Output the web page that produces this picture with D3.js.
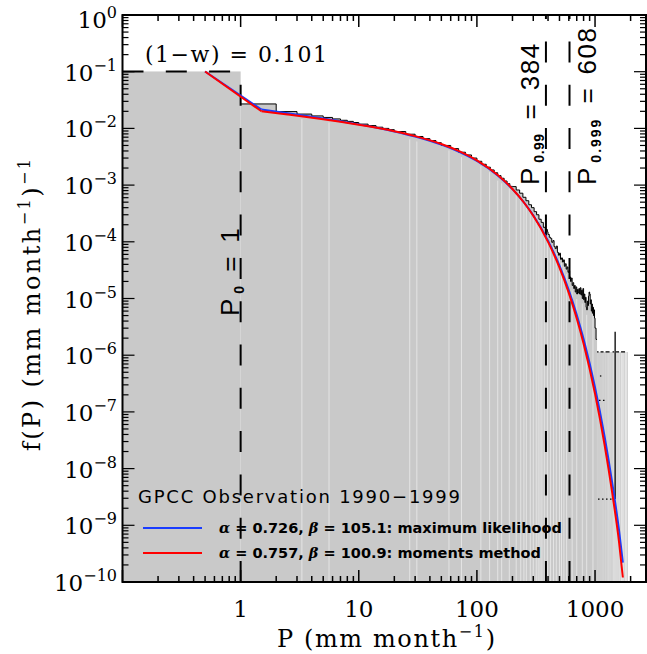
<!DOCTYPE html>
<html><head><meta charset="utf-8">
<script src="https://cdn.jsdelivr.net/npm/d3@7"></script>
<style>body{margin:0;background:#fff}</style>
</head><body>
<svg id="c" width="647" height="654"></svg>
<script>
// ---------------- data ----------------
const dryFraction = 0.101;            // (1-w)
const P0 = 1, P99 = 384, P999 = 608;  // thresholds
// observed histogram (bin edges, densities)
const histEdges  = [1,2,3,4,5,6,7,8,9,10,12,14,16,18,20,25,30,35,40,45,50,60,70,80,90,100,110,120,130,140,150,160,170,180,190,200,
  215,230,245,260,275,290,305,320,335,350,365,380,395,
  400,410,420,430,440,450,460,470,480,490,500,510,520,530,540,550,560,570,580,590,600,610,620,630,640,650,660,670,680,690,
  700,710,720,730,740,750,760,770,780,790,800,810,820,830,840,850,860,870,880,890,900,910,920,930,940,950,960,970,980,990,1000,1020,1040];
const histValues = [0.027,0.0198,0.0179,0.0166,0.0156,0.0147,0.0139,0.0133,0.0127,0.0119,0.0112,0.0105,0.0100,0.0095,0.0088,0.0079,0.0072,0.0066,0.0061,0.0056,0.0050,0.0044,0.0038,0.0034,0.0030,
  0.00263,0.00233,0.00207,0.00185,0.00165,0.00147,0.00132,0.00118,0.00106,0.00095,
  0.00094,0.00082,0.00072,0.00061,0.00053,0.00045,0.00040,0.00034,0.00030,0.00025,0.00022,0.00018,0.000165,
  0.000150,0.000135,0.000120,0.000115,0.000098,0.000105,0.000082,0.000076,0.000084,0.000065,0.000058,0.000063,0.000049,0.000052,0.000044,0.000048,0.000037,0.000041,0.000033,0.000036,0.000029,
  0.000031,0.000024,0.000020,0.000023,0.000017,0.000019,0.000015,0.000017,0.000013,0.000016,
  0.000012,0.0000145,0.0000125,0.000015,0.000012,0.0000155,0.0000115,0.000014,0.000010,0.000015,0.0000095,0.000012,0.0000085,0.0000105,0.000007,0.0000063,0.000009,0.0000075,0.000011,0.000013,
  0.000012,0.000008,0.0000095,0.000006,0.000008,0.0000055,0.000007,0.000005,0.0000063,0.0000045,0.000003,0.0000019];
// sparse tail: single-observation bins
const tailP     = [1045,1055,1062,1071,1080,1090,1098,1107,1115,1125,1135,1148,1160,1175,1190,1203,1215,1232,1250,1270,1290,1310,1330,1355,1380,1400,1420,1450,1480,1510,1540,1570,1600,1640,1690,1730,1780,1830,1880];
const tailValue = 1.14e-6;
const tailDots = [{p1:1100,p2:1130,v:4.3e-7},{p1:1080,p2:1230,v:1.6e-7},{p1:1060,p2:1420,v:2.9e-9}];
const tailSpike = {p:1480, hi:2.6e-6, lo:2.9e-9};
// fitted gamma densities
const curveP = [0.5,1.5,2.5,3.5,5,7,10,15,20,30,50,70,100,150,200,250,300,400,500,600,700,800,1000,1200,1400,1600,1720];
const mlF  = [0.101,0.02146,0.01848,0.01670,0.01493,0.01336,0.01177,0.01004,0.008852,0.007202,0.005177,0.003903,0.002661,0.001480,0.0008496,0.0004967,0.0002936,0.0001048,3.807e-5,1.399e-5,5.177e-6,1.928e-6,2.706e-7,3.836e-8,5.486e-9,7.88e-10,2.2e-10];
const momF = [0.101,0.02007,0.01755,0.01602,0.01447,0.01307,0.01164,0.01003,0.008904,0.007307,0.005294,0.004001,0.002725,0.001505,0.000855,0.0004933,0.0002875,9.955e-5,3.5e-5,1.243e-5,4.44e-6,1.596e-6,2.083e-7,2.746e-8,3.646e-9,4.866e-10,1.2e-10];
// white gaps in the gray fill
const gapP = [3.3,5.6,27,31,58,74,108,128,150,162,188,215,235,250,262,283,300,318,330,342,355,372,395,420,445,470,500,520,545,575,640,700,780,850,960];
// tick labels
const yExponents = [0,-1,-2,-3,-4,-5,-6,-7,-8,-9,-10];
const xTickValues = [1,10,100,1000];
const legendTitle = "GPCC Observation 1990\u22121999";
const legendEntries = [
  {a:"0.726", b:"105.1", label:"maximum likelihood", color:"#1a3cff"},
  {a:"0.757", b:"100.9", label:"moments method", color:"#ff0000"}
];

// ---------------- chart ----------------
const svg = d3.select("#c");
const L=122.5, R=646, T=15, B=582;
const x = d3.scaleLog().domain([0.1, 2700]).range([L, R]);
const y = d3.scaleLog().domain([1e-10, 1]).range([B, T]).clamp(true);
const serif = "'DejaVu Serif', serif";
const sans = "'Liberation Sans', Arial, sans-serif";

svg.append("defs").append("clipPath").attr("id","clip")
  .append("rect").attr("x",L).attr("y",T).attr("width",R-L).attr("height",B-T);
const g = svg.append("g").attr("clip-path","url(#clip)");

const gray = "#c9c9c9";
g.append("rect").attr("x",x(0.1)).attr("y",y(dryFraction))
  .attr("width",x(P0)-x(0.1)).attr("height",B-y(dryFraction)).attr("fill",gray);

const histPts = histEdges.map((e,i)=>[e, i<histValues.length?histValues[i]:histValues[histValues.length-1]]);
g.append("path").datum(histPts)
  .attr("d", d3.area().x(d=>x(d[0])).y0(B).y1(d=>y(d[1])).curve(d3.curveStepAfter))
  .attr("fill",gray);

// sparse tail
g.selectAll(".tail").data(tailP).join("rect")
  .attr("x",d=>x(d)-0.5).attr("width",1).attr("y",y(tailValue)).attr("height",B-y(tailValue))
  .attr("fill","#cfcfcf");
// gaps
g.selectAll(".gap").data(gapP).join("line")
  .attr("x1",d=>x(d)).attr("x2",d=>x(d)).attr("y1",B).attr("y2",d=>{
     let i = d3.bisectRight(histEdges,d)-1; return y(histValues[Math.max(0,Math.min(i,histValues.length-1))])+5;})
  .attr("stroke","#e4e4e4").attr("stroke-width",1);

g.append("path").datum(histPts)
  .attr("d", d3.line().x(d=>x(d[0])).y(d=>y(d[1])).curve(d3.curveStepAfter))
  .attr("fill","none").attr("stroke","#000").attr("stroke-width",1);
g.append("line").attr("x1",x(1040)).attr("x2",x(1900)).attr("y1",y(tailValue)).attr("y2",y(tailValue))
  .attr("stroke","#000").attr("stroke-width",1.2).attr("stroke-dasharray","1.5,2,3,2,4,3");
tailDots.forEach(d=>{
  g.append("line").attr("x1",x(d.p1)).attr("x2",x(d.p2)).attr("y1",y(d.v)).attr("y2",y(d.v))
   .attr("stroke","#000").attr("stroke-width",1.2).attr("stroke-dasharray","1.5,2.5");
});
g.append("line").attr("x1",x(tailSpike.p)).attr("x2",x(tailSpike.p)).attr("y1",y(tailSpike.hi)).attr("y2",y(tailSpike.lo))
  .attr("stroke","#222").attr("stroke-width",1.5);

// dashed guides
const dash = "21,22.3";
[P0,P99,P999].forEach(p=>{
  g.append("line").attr("x1",x(p)).attr("x2",x(p)).attr("y1",B).attr("y2",p===P0?y(dryFraction):T)
   .attr("stroke","#000").attr("stroke-width",2).attr("stroke-dasharray",dash);
});
g.append("line").attr("x1",L).attr("x2",x(P0)).attr("y1",y(dryFraction)).attr("y2",y(dryFraction))
  .attr("stroke","#000").attr("stroke-width",2).attr("stroke-dasharray",dash);

// fitted curves
function drawCurve(vals,color){
  const pts = curveP.map((p,i)=>[p,vals[i]]);
  g.append("path").datum(pts.slice(0,2)).attr("d",d3.line().x(d=>x(d[0])).y(d=>y(d[1])))
    .attr("fill","none").attr("stroke",color).attr("stroke-width",2);
  g.append("path").datum(pts.slice(1)).attr("d",d3.line().x(d=>x(d[0])).y(d=>y(d[1])).curve(d3.curveMonotoneX))
    .attr("fill","none").attr("stroke",color).attr("stroke-width",2);
}
drawCurve(mlF,"#1a3cff");
drawCurve(momF,"#ff0000");

// axes
function minorTicks(lo,hi){const t=[];for(let e=Math.floor(Math.log10(lo));e<=Math.ceil(Math.log10(hi));e++){for(let m=1;m<10;m++){const v=m*Math.pow(10,e);if(v>=lo*0.999&&v<=hi*1.001)t.push({v,major:m===1});}}return t;}
const xt = minorTicks(0.1,2700), yt = minorTicks(1e-10,1);
const ax = svg.append("g").attr("stroke","#000");
xt.forEach(t=>{const L2=t.major?12:6;const X=x(t.v);
  ax.append("line").attr("x1",X).attr("x2",X).attr("y1",B).attr("y2",B-L2).attr("stroke-width",1.5);
  ax.append("line").attr("x1",X).attr("x2",X).attr("y1",T).attr("y2",T+L2).attr("stroke-width",1.5);});
yt.forEach(t=>{const L2=t.major?12:6;const Y=y(t.v);
  ax.append("line").attr("x1",L).attr("x2",L+L2).attr("y1",Y).attr("y2",Y).attr("stroke-width",1.2);
  ax.append("line").attr("x1",R).attr("x2",R-L2).attr("y1",Y).attr("y2",Y).attr("stroke-width",1.2);});
svg.append("rect").attr("x",L).attr("y",T).attr("width",R-L).attr("height",B-T)
  .attr("fill","none").attr("stroke","#000").attr("stroke-width",2);

// y tick labels
yExponents.forEach(e=>{
  const t = svg.append("text").attr("x",117).attr("y",Math.max(y(Math.pow(10,e))+9, 28))
    .attr("text-anchor","end").attr("font-family",serif).attr("font-size",23).attr("fill","#000");
  t.append("tspan").text("10");
  t.append("tspan").attr("dy",-10).attr("font-size",16).text(e===0?"0":"\u2212"+(-e));
});
// x tick labels
xTickValues.forEach(v=>{
  svg.append("text").attr("x",x(v)).attr("y",617).attr("text-anchor","middle")
    .attr("font-family",serif).attr("font-size",23).text(v);
});
// axis titles
const xl = svg.append("text").attr("x",386).attr("y",647).attr("text-anchor","middle")
  .attr("font-family",serif).attr("font-size",24).attr("textLength",218).attr("lengthAdjust","spacing");
xl.append("tspan").text("P (mm month");
xl.append("tspan").attr("dy",-10).attr("font-size",16).text("\u22121");
xl.append("tspan").attr("dy",10).text(")");

const yl = svg.append("text").attr("transform","translate(40,305) rotate(-90)").attr("text-anchor","middle")
  .attr("font-family",serif).attr("font-size",24).attr("textLength",292).attr("lengthAdjust","spacing");
yl.append("tspan").text("f(P) (mm month");
yl.append("tspan").attr("dy",-10).attr("font-size",16).text("\u22121");
yl.append("tspan").attr("dy",10).text(")");
yl.append("tspan").attr("dy",-10).attr("font-size",16).text("\u22121");

// annotations
svg.append("text").attr("x",145).attr("y",62).attr("font-family",serif).attr("font-size",22)
  .attr("textLength",182).attr("lengthAdjust","spacing").text("(1\u2212w) = "+dryFraction);

function rotLabel(tx,ty,sub,val,subSpacing){
  const t = svg.append("text").attr("transform",`translate(${tx},${ty}) rotate(-90)`)
    .attr("font-family",sans).attr("font-size",26);
  t.append("tspan").text("P");
  t.append("tspan").attr("dx",5).attr("dy",5).attr("font-size",14).attr("font-weight","bold")
    .attr("letter-spacing",subSpacing).text(sub);
  t.append("tspan").attr("dx",14).attr("dy",-5).text("=");
  t.append("tspan").attr("dx",14).attr("letter-spacing",1.5).text(val);
}
rotLabel(239,316,"0",P0,0);
rotLabel(539,185,"0.99",P99,0.5);
rotLabel(596,185,"0.999",P999,2);

// legend
svg.append("text").attr("x",138).attr("y",503).attr("font-family","'DejaVu Sans', sans-serif")
  .attr("font-size",18).attr("textLength",322).attr("lengthAdjust","spacing").text(legendTitle);
legendEntries.forEach((d,i)=>{
  const Y = 528+25*i;
  svg.append("line").attr("x1",143).attr("x2",202).attr("y1",Y).attr("y2",Y).attr("stroke",d.color).attr("stroke-width",2);
  const t = svg.append("text").attr("x",219).attr("y",Y+5).attr("font-family","'DejaVu Sans', sans-serif")
    .attr("font-size",14.5).attr("font-weight","bold");
  t.append("tspan").attr("font-family",serif).attr("font-style","italic").text("\u03b1");
  t.append("tspan").text(" = "+d.a+", ");
  t.append("tspan").attr("font-family",serif).attr("font-style","italic").text("\u03b2");
  t.append("tspan").text(" = "+d.b+": "+d.label);
});
</script>
</body></html>
